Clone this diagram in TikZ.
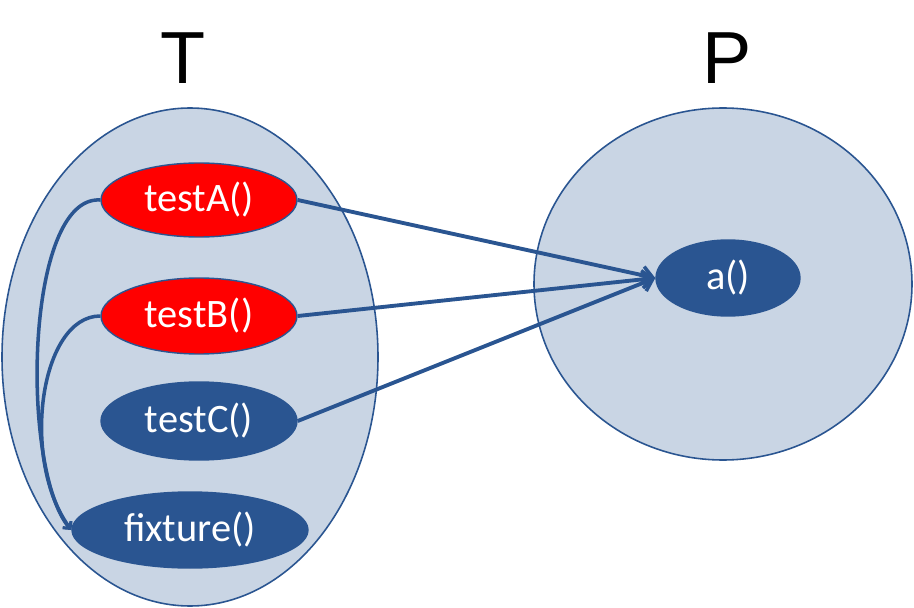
\documentclass[tikz,border=0pt]{standalone}
\usepackage{fontspec}
\setmainfont{Carlito}
\newfontfamily\labelfont{Liberation Sans}
\usetikzlibrary{arrows.meta}
\definecolor{dblue}{HTML}{2A5591}
\definecolor{lblue}{HTML}{C9D5E4}
\definecolor{bred}{HTML}{FF0000}
\tikzset{
  setell/.style={draw=dblue, fill=lblue, line width=0.9pt},
  redfn/.style={ellipse, draw=dblue, fill=bred, line width=0.8pt, text=white, font=\fontsize{23}{26}\selectfont, inner sep=0pt},
  bluefn/.style={ellipse, draw=dblue, fill=dblue, line width=0.8pt, text=white, font=\fontsize{23}{26}\selectfont, inner sep=0pt},
  conn/.style={draw=dblue, line width=2.2pt, -{Straight Barb[length=6pt,width=10pt,line width=2pt]}},
  loopconn/.style={draw=dblue, line width=2pt, -{Straight Barb[length=3pt,width=6pt,line width=1.5pt]}},
  setlabel/.style={font=\labelfont\fontsize{42}{46}\selectfont}
}
\usetikzlibrary{shapes.geometric}
\begin{document}
\begin{tikzpicture}[x=0.02cm,y=-0.02cm]
\useasboundingbox (0,0) rectangle (914,608);
\draw[setell] (190,357) ellipse [x radius=188, y radius=249];
\draw[setell] (723,284) ellipse [x radius=189, y radius=176];
\node[setlabel] (T) at (183,58) {T};
\node[setlabel] (P) at (727,58) {P};
\node[redfn, minimum width=196*0.02cm, minimum height=74*0.02cm] (tA) at (199,200) {testA()};
\node[redfn, minimum width=196*0.02cm, minimum height=76*0.02cm] (tB) at (199,316) {testB()};
\node[bluefn, minimum width=196*0.02cm, minimum height=78*0.02cm] (tC) at (199,421) {testC()};
\node[bluefn, minimum width=236*0.02cm, minimum height=76*0.02cm] (fx) at (190,530) {fixture()};
\node[bluefn, minimum width=144*0.02cm, minimum height=76*0.02cm] (a) at (728,278) {a()};
\draw[conn] (tA.east) -- (a.west);
\draw[conn] (tB.east) -- (a.west);
\draw[conn] (tC.east) -- (a.west);
\draw[loopconn] (tA.west) .. controls (25,195) and (20,470) .. (fx.west);
\draw[loopconn] (tB.west) .. controls (40,316) and (20,460) .. (fx.west);
\end{tikzpicture}
\end{document}
